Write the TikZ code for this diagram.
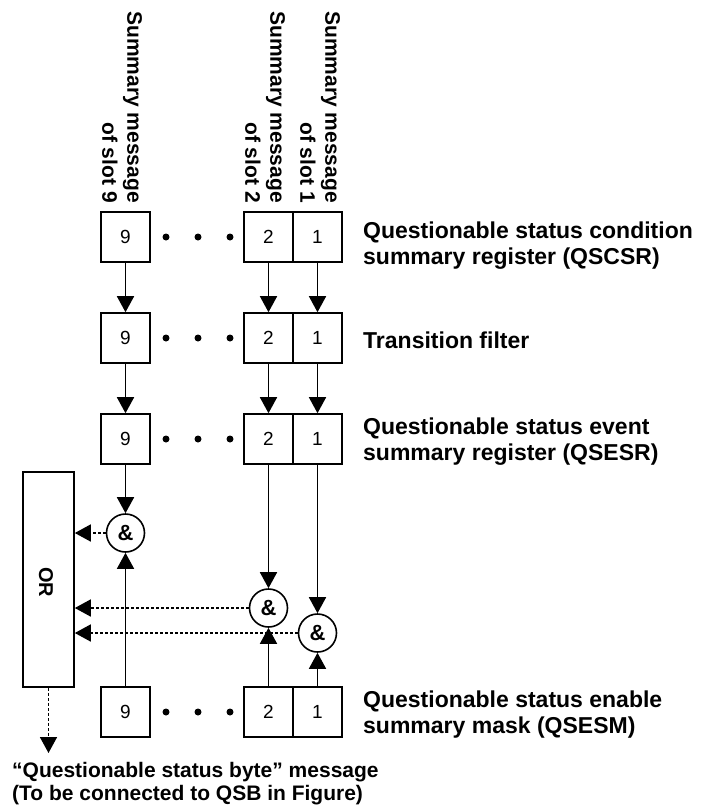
\documentclass[tikz,border=0pt]{standalone}
\usepackage{fontspec}
\setmainfont{Liberation Sans}
\usetikzlibrary{arrows.meta}
\begin{document}
\begin{tikzpicture}[x=1pt,y=1pt,
  reg/.style={draw,line width=1.6pt,minimum width=49pt,minimum height=50pt,inner sep=0pt,font=\fontsize{19}{21}\selectfont},
  andg/.style={circle,draw,line width=1.6pt,minimum size=38pt,inner sep=0pt,font=\fontsize{22}{24}\selectfont\bfseries},
  orbox/.style={draw,line width=1.6pt,minimum width=51pt,minimum height=215pt,inner sep=0pt},
  arr/.style={line width=1.6pt,-{Triangle[length=16pt,width=17pt]}},
  dotarr/.style={arr,dash pattern=on 3pt off 2pt},
  lbl/.style={anchor=west,align=left,inner sep=0pt,font=\fontsize{23}{26}\selectfont\bfseries},
  toplbl/.style={rotate=-90,anchor=east,align=right,inner sep=0pt,font=\fontsize{21}{25}\selectfont\bfseries},
  dotmark/.style={circle,fill=black,inner sep=0pt,minimum size=7pt}
]
\useasboundingbox (0,0) rectangle (712,-807);

% top labels
\node[toplbl] (t9) at (122,-203) {Summary message\\of slot 9};
\node[toplbl] (t2) at (265,-203) {Summary message\\of slot 2};
\node[toplbl] (t1) at (320,-203) {Summary message\\of slot 1};

% registers
\foreach \r/\y in {1/237,2/338,3/439,4/712}{
  \node[reg] (r\r n) at (125.5,-\y) {9};
  \node[reg] (r\r b) at (268.5,-\y) {2};
  \node[reg] (r\r a) at (317.5,-\y) {1};
  \node[dotmark] (d\r x) at (166,-\y) {};
  \node[dotmark] (d\r y) at (198,-\y) {};
  \node[dotmark] (d\r z) at (230,-\y) {};
}

% right labels
\node[lbl] (l1) at (363,-245.5) {Questionable status condition\\summary register (QSCSR)};
\node[lbl] (l2) at (363,-340.5) {Transition filter};
\node[lbl] (l3) at (363,-441.5) {Questionable status event\\summary register (QSESR)};
\node[lbl] (l4) at (363,-715) {Questionable status enable\\summary mask (QSESM)};

% arrows between rows
\foreach \s in {n,b,a}{
  \draw[arr] (r1\s) -- (r2\s);
  \draw[arr] (r2\s) -- (r3\s);
}

% AND gates
\node[andg] (g9) at (125.5,-533) {\&};
\node[andg] (g2) at (268.5,-608) {\&};
\node[andg] (g1) at (317.5,-633) {\&};

\draw[arr] (r3n) -- (g9);
\draw[arr] (r4n) -- (g9);
\draw[arr] (r3b) -- (g2);
\draw[arr] (r4b) -- (g2);
\draw[arr] (r3a) -- (g1);
\draw[arr] (r4a) -- (g1);

% OR
\node[orbox] (or) at (48.5,-579.5) {};
\node[rotate=-90,inner sep=0pt,font=\fontsize{20}{22}\selectfont\bfseries] (ortext) at (46,-582) {OR};

\draw[dotarr] (g9) -- (g9 -| or.east);
\draw[dotarr] (g2) -- (g2 -| or.east);
\draw[dotarr] (g1) -- (g1 -| or.east);

\coordinate (out) at (48.5,-753);
\draw[dotarr] (or) -- (out);

\node[anchor=north west,align=left,inner sep=0pt,font=\fontsize{21}{23}\selectfont\bfseries] (bot) at (12,-762)
  {“Questionable status byte” message\\(To be connected to QSB in Figure)};
\end{tikzpicture}
\end{document}
